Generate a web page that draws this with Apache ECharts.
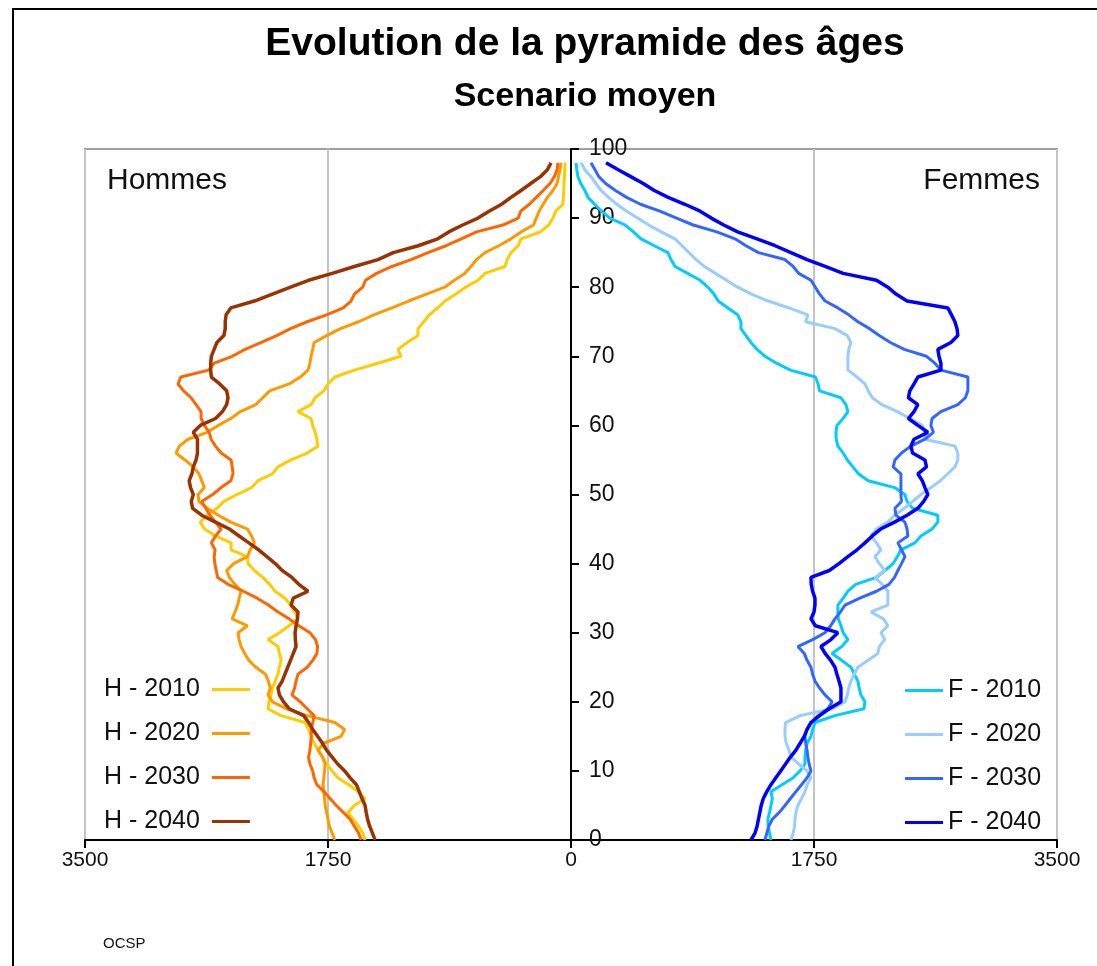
<!DOCTYPE html>
<html>
<head>
<meta charset="utf-8">
<script src="https://cdn.jsdelivr.net/npm/echarts@6/dist/echarts.min.js"></script>
<style>
  html, body { margin: 0; padding: 0; background: #fff; }
  #chart { width: 1097px; height: 966px; }
</style>
</head>
<body>
<div id="chart"></div>
<script>
// ages 0..98 (one point per year)
var ages = [0, 1, 2, 3, 4, 5, 6, 7, 8, 9, 10, 11, 12, 13, 14, 15, 16, 17, 18, 19,
	20, 21, 22, 23, 24, 25, 26, 27, 28, 29, 30, 31, 32, 33, 34, 35, 36, 37, 38, 39,
	40, 41, 42, 43, 44, 45, 46, 47, 48, 49, 50, 51, 52, 53, 54, 55, 56, 57, 58, 59,
	60, 61, 62, 63, 64, 65, 66, 67, 68, 69, 70, 71, 72, 73, 74, 75, 76, 77, 78, 79,
	80, 81, 82, 83, 84, 85, 86, 87, 88, 89, 90, 91, 92, 93, 94, 95, 96, 97, 98];

// Hommes
var h2010 = [1483, 1500, 1530, 1570, 1606, 1560, 1483, 1534, 1600, 1680,
	1720, 1760, 1790, 1820, 1850, 1872, 1890, 1915, 2088, 2182,
	2175, 2160, 2150, 2131, 2110, 2100, 2088, 2100, 2110, 2182,
	2100, 2030, 1966, 1990, 2020, 2059, 2131, 2170, 2220, 2280,
	2326, 2330, 2448, 2448, 2560, 2640, 2670, 2620, 2550, 2500,
	2405, 2300, 2254, 2150, 2110, 2016, 1900, 1822, 1830, 1843,
	1860, 1872, 1966, 1872, 1843, 1780, 1750, 1700, 1560, 1390,
	1224, 1246, 1180, 1102, 1102, 1060, 1020, 960, 907, 830,
	760, 670, 619, 475, 460, 432, 380, 360, 220, 160,
	130, 110, 58, 55, 52, 50, 47, 45, 43];
var h2020 = [1700, 1720, 1740, 1750, 1760, 1770, 1775, 1780, 1786, 1780,
	1775, 1771, 1790, 1822, 1780, 1656, 1630, 1700, 1900, 2050,
	2150, 2182, 2165, 2180, 2200, 2270, 2320, 2350, 2376, 2390,
	2398, 2330, 2440, 2420, 2400, 2390, 2376, 2420, 2460, 2480,
	2430, 2330, 2310, 2280, 2300, 2330, 2450, 2540, 2620, 2680,
	2686, 2640, 2660, 2680, 2720, 2780, 2845, 2820, 2758, 2620,
	2540, 2450, 2380, 2270, 2220, 2170, 2030, 1950, 1894, 1880,
	1872, 1860, 1850, 1760, 1660, 1530, 1420, 1290, 1170, 1040,
	910, 840, 765, 720, 680, 620, 520, 432, 360, 270,
	250, 230, 200, 170, 130, 100, 90, 80, 72];
var h2030 = [1512, 1530, 1560, 1590, 1640, 1690, 1735, 1780, 1830, 1850,
	1860, 1880, 1890, 1880, 1875, 1870, 1870, 1860, 1850, 1900,
	1950, 2010, 1990, 1980, 1966, 1900, 1860, 1830, 1825, 1840,
	1880, 1960, 2030, 2110, 2180, 2260, 2360, 2470, 2545, 2555,
	2565, 2570, 2563, 2590, 2560, 2520, 2560, 2600, 2630, 2660,
	2580, 2520, 2450, 2434, 2440, 2448, 2520, 2560, 2592, 2605,
	2640, 2664, 2664, 2700, 2736, 2790, 2830, 2810, 2610, 2570,
	2440, 2347, 2230, 2120, 2020, 1900, 1760, 1640, 1584, 1560,
	1500, 1480, 1400, 1290, 1152, 1030, 900, 790, 680, 490,
	380, 362, 300, 250, 200, 151, 120, 100, 94];
var h2040 = [1411, 1430, 1450, 1465, 1475, 1483, 1505, 1525, 1545, 1590,
	1630, 1680, 1720, 1760, 1790, 1825, 1860, 1890, 1925, 2030,
	2070, 2100, 2110, 2080, 2060, 2040, 2020, 2000, 1980, 1985,
	1987, 1980, 1970, 1966, 2016, 2000, 1894, 1960, 2010, 2080,
	2130, 2190, 2250, 2320, 2390, 2460, 2560, 2660, 2725, 2735,
	2720, 2740, 2750, 2730, 2720, 2700, 2690, 2690, 2690, 2720,
	2670, 2560, 2510, 2480, 2470, 2480, 2530, 2590, 2595, 2595,
	2590, 2570, 2550, 2500, 2490, 2490, 2484, 2450, 2280, 2150,
	2020, 1890, 1720, 1560, 1390, 1280, 1100, 960, 880, 780,
	670, 590, 500, 432, 360, 290, 220, 170, 144];

// Femmes
var f2010 = [1440, 1430, 1420, 1418, 1430, 1440, 1450, 1440, 1520, 1600,
	1650, 1685, 1685, 1690, 1700, 1728, 1740, 1757, 1900, 2110,
	2117, 2088, 2075, 2066, 2040, 2016, 1950, 1880, 1950, 1994,
	1960, 1944, 1925, 1922, 1922, 1960, 1994, 2050, 2200, 2261,
	2320, 2350, 2376, 2477, 2520, 2600, 2642, 2642, 2460, 2420,
	2405, 2330, 2140, 2070, 2030, 1990, 1960, 1922, 1910, 1908,
	1915, 1960, 1994, 1980, 1944, 1790, 1780, 1760, 1580, 1480,
	1397, 1340, 1296, 1260, 1224, 1224, 1200, 1130, 1060, 1030,
	986, 930, 840, 749, 720, 698, 600, 504, 450, 389,
	280, 220, 170, 122, 100, 70, 50, 42, 36];
var f2020 = [1584, 1600, 1610, 1613, 1620, 1634, 1660, 1685, 1700, 1728,
	1700, 1640, 1584, 1570, 1550, 1541, 1541, 1545, 1650, 1880,
	1973, 1990, 2000, 2016, 2040, 2066, 2140, 2210, 2220, 2260,
	2232, 2282, 2250, 2160, 2282, 2282, 2282, 2240, 2189, 2261,
	2220, 2189, 2232, 2200, 2160, 2200, 2282, 2330, 2400, 2460,
	2520, 2592, 2660, 2714, 2765, 2786, 2786, 2765, 2549, 2549,
	2530, 2440, 2350, 2240, 2170, 2140, 2117, 2060, 1994, 1994,
	1994, 2000, 2016, 1990, 1901, 1690, 1706, 1570, 1420, 1300,
	1200, 1120, 1040, 960, 900, 850, 800, 749, 650, 560,
	480, 400, 330, 270, 216, 180, 144, 100, 72];
var f2030 = [1397, 1410, 1425, 1450, 1500, 1541, 1580, 1620, 1660, 1700,
	1728, 1715, 1706, 1700, 1690, 1685, 1700, 1728, 1780, 1850,
	1880, 1829, 1790, 1757, 1740, 1728, 1700, 1680, 1634, 1740,
	1829, 1870, 1901, 1940, 1973, 2080, 2200, 2290, 2330, 2354,
	2380, 2405, 2380, 2354, 2426, 2420, 2405, 2340, 2333, 2380,
	2376, 2376, 2376, 2376, 2320, 2333, 2380, 2448, 2549, 2610,
	2592, 2600, 2664, 2786, 2840, 2858, 2858, 2858, 2664, 2620,
	2560, 2400, 2300, 2220, 2150, 2066, 2000, 1922, 1830, 1790,
	1760, 1728, 1640, 1600, 1540, 1350, 1260, 1181, 1050, 880,
	760, 640, 500, 400, 320, 250, 200, 173, 144];
var f2040 = [1296, 1325, 1340, 1350, 1360, 1370, 1385, 1410, 1440, 1475,
	1510, 1545, 1580, 1620, 1650, 1680, 1700, 1728, 1790, 1860,
	1944, 1944, 1944, 1930, 1915, 1901, 1870, 1830, 1800, 1872,
	1922, 1760, 1728, 1750, 1757, 1757, 1740, 1730, 1728, 1860,
	1930, 1994, 2060, 2117, 2170, 2230, 2330, 2420, 2498, 2540,
	2570, 2549, 2530, 2498, 2560, 2549, 2460, 2448, 2470, 2570,
	2498, 2430, 2470, 2498, 2430, 2440, 2470, 2498, 2664, 2664,
	2650, 2642, 2736, 2786, 2780, 2765, 2740, 2714, 2420, 2340,
	2282, 2200, 1960, 1830, 1700, 1584, 1470, 1340, 1200, 1100,
	1010, 930, 820, 700, 600, 520, 430, 340, 252];

var hNames = ['H - 2010', 'H - 2020', 'H - 2030', 'H - 2040'];
var fNames = ['F - 2010', 'F - 2020', 'F - 2030', 'F - 2040'];
var hColors = ['#FFCC00', '#FF9900', '#FF6600', '#993300'];
var fColors = ['#00CCFF', '#99CCFF', '#3366FF', '#0000FF'];

var FONT = '"Liberation Sans", Arial, sans-serif';

// grille : largeur 972 px, l'axe des ages au milieu
var GRID_LEFT = 85;
var GRID_RIGHT = 40;
var HALF_WIDTH = (1097 - GRID_LEFT - GRID_RIGHT) / 2;

// hommes a gauche : valeurs negatives
function toPoints(values, sign) {
	var ret = [];
	for (var i = 0; i < values.length; i++) {
		ret.push([sign * values[i], ages[i]]);
	}
	return ret;
}

var series = [];
var hData = [h2010, h2020, h2030, h2040];
var fData = [f2010, f2020, f2030, f2040];
for (var i = 0; i < 4; i++) {
	series.push({
		name: hNames[i],
		type: 'line',
		showSymbol: false,
		symbol: 'none',
		color: hColors[i],
		lineStyle: { width: i == 3 ? 3.5 : 3, color: hColors[i] },
		data: toPoints(hData[i], -1)
	});
}
for (var i = 0; i < 4; i++) {
	series.push({
		name: fNames[i],
		type: 'line',
		showSymbol: false,
		symbol: 'none',
		color: fColors[i],
		lineStyle: { width: i == 3 ? 3.5 : 3, color: fColors[i] },
		data: toPoints(fData[i], 1)
	});
}

var chart = echarts.init(document.getElementById('chart'));
chart.setOption({
	animation: false,
	backgroundColor: '#fff',
	grid: {
		left: GRID_LEFT,
		right: GRID_RIGHT,
		top: 149,
		bottom: 126,
		show: true,
		borderColor: '#a0a0a0',
		borderWidth: 2
	},
	legend: [{
		data: hNames,
		orient: 'vertical',
		left: 99,
		top: 672,
		align: 'right',
		icon: 'rect',
		itemWidth: 38,
		itemHeight: 3,
		itemGap: 19,
		selectedMode: false,
		textStyle: { fontFamily: FONT, fontSize: 25, color: '#111', padding: [0, 7, 0, 0] }
	}, {
		data: fNames,
		orient: 'vertical',
		left: 900,
		top: 673,
		align: 'left',
		icon: 'rect',
		itemWidth: 38,
		itemHeight: 3,
		itemGap: 19,
		selectedMode: false,
		textStyle: { fontFamily: FONT, fontSize: 25, color: '#111' }
	}],
	xAxis: {
		type: 'value',
		min: -3500,
		max: 3500,
		interval: 1750,
		axisLine: { lineStyle: { color: '#000', width: 2 } },
		axisTick: { show: true, length: 8, lineStyle: { color: '#000', width: 2 } },
		axisLabel: {
			margin: 10,
			fontFamily: FONT,
			fontSize: 21,
			color: '#111',
			formatter: function (v) { return Math.abs(v); }
		},
		splitLine: { show: true, lineStyle: { color: '#c4c4c4', width: 2 } }
	},
	yAxis: {
		type: 'value',
		min: 0,
		max: 100,
		interval: 10,
		position: 'left',
		offset: -HALF_WIDTH,
		axisLine: { onZero: false, lineStyle: { color: '#000', width: 2 } },
		axisTick: { show: true, inside: true, length: 8, lineStyle: { color: '#000', width: 2 } },
		axisLabel: { inside: true, margin: 18, fontFamily: FONT, fontSize: 23, color: '#111' },
		splitLine: { show: false }
	},
	graphic: [{
		type: 'rect',
		silent: true,
		shape: { x: 13, y: 9, width: 1200, height: 1100 },
		style: { fill: 'none', stroke: '#000', lineWidth: 2 }
	}, {
		type: 'text',
		x: 585, y: 44,
		style: { text: 'Evolution de la pyramide des âges', fontFamily: FONT, fontSize: 39, fontWeight: 'bold',
			fill: '#000', textAlign: 'center', textVerticalAlign: 'middle' }
	}, {
		type: 'text',
		x: 585, y: 97,
		style: { text: 'Scenario moyen', fontFamily: FONT, fontSize: 34, fontWeight: 'bold',
			fill: '#000', textAlign: 'center', textVerticalAlign: 'middle' }
	}, {
		type: 'text',
		x: 107, y: 181,
		style: { text: 'Hommes', fontFamily: FONT, fontSize: 30, fill: '#111', textVerticalAlign: 'middle' }
	}, {
		type: 'text',
		x: 1040, y: 181,
		style: { text: 'Femmes', fontFamily: FONT, fontSize: 30, fill: '#111', textAlign: 'right', textVerticalAlign: 'middle' }
	}, {
		type: 'text',
		x: 103, y: 944,
		style: { text: 'OCSP', fontFamily: FONT, fontSize: 15, fill: '#111', textVerticalAlign: 'middle' }
	}],
	series: series
});
</script>
</body>
</html>
